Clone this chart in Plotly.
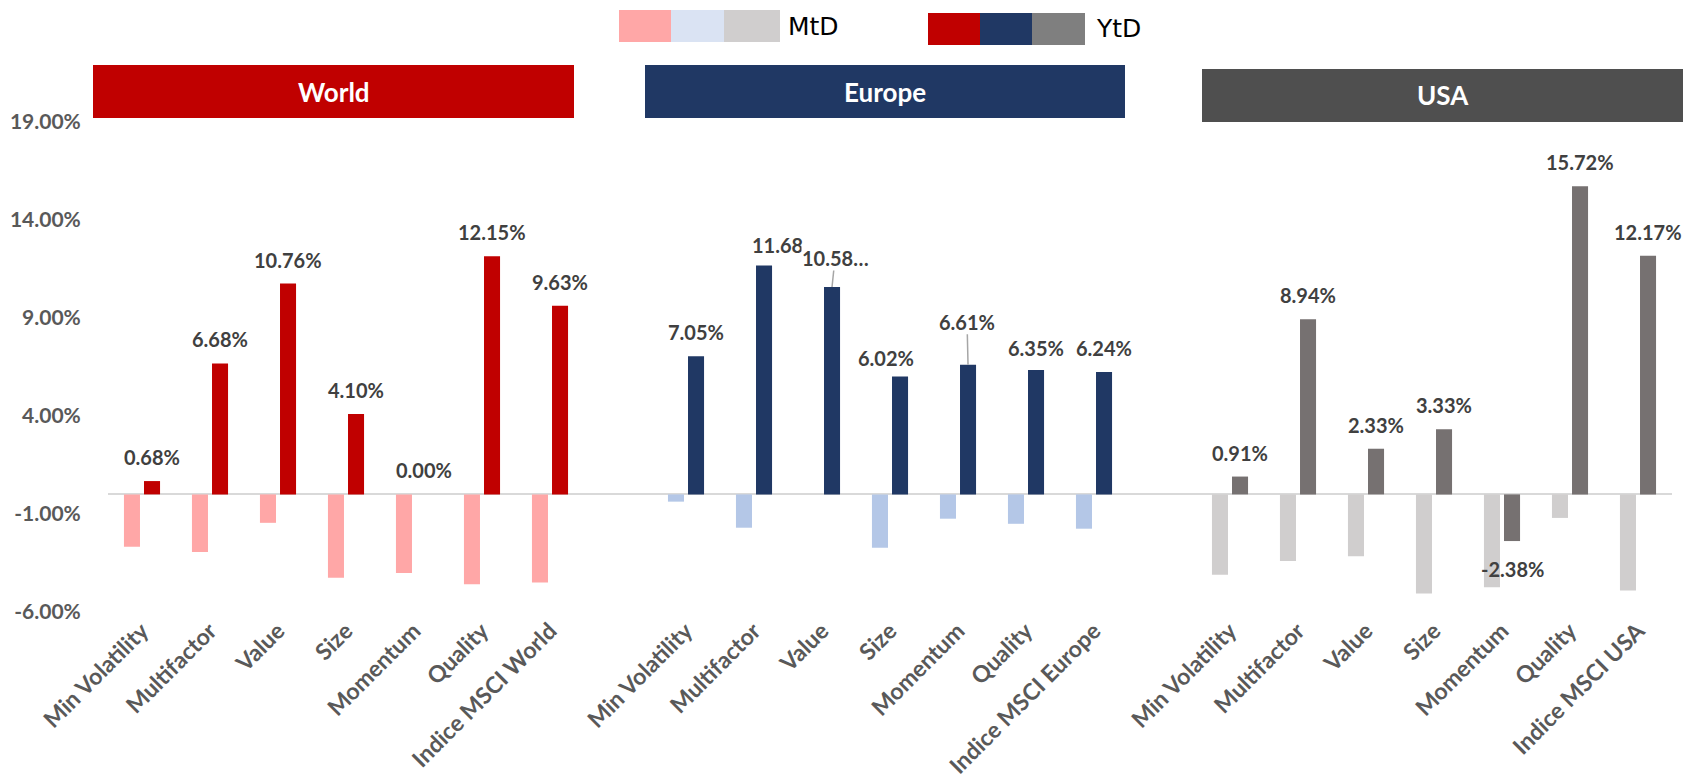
import plotly.graph_objects as go

# ---------------- data ----------------
groups = ["World", "Europe", "USA"]
factors = ["Min Volatility", "Multifactor", "Value", "Size", "Momentum", "Quality"]
index_labels = ["Indice MSCI World", "Indice MSCI Europe", "Indice MSCI USA"]

mtd_world = [-2.67, -2.94, -1.45, -4.25, -4.01, -4.59, -4.49]
mtd_europe = [-0.37, -1.70, 0.00, -2.72, -1.24, -1.50, -1.75]
mtd_usa = [-4.10, -3.40, -3.15, -5.05, -4.74, -1.20, -4.90]

ytd_world = [0.68, 6.68, 10.76, 4.10, 0.00, 12.15, 9.63]
ytd_europe = [7.05, 11.68, 10.58, 6.02, 6.61, 6.35, 6.24]
ytd_usa = [0.91, 8.94, 2.33, 3.33, -2.38, 15.72, 12.17]

y_ticks = [-6, -1, 4, 9, 14, 19]

# ---------------- styles ----------------
mtd_colors = ["#FFA7A7", "#B4C7E7", "#D0CECE"]
ytd_colors = ["#C00000", "#203864", "#767171"]
header_colors = ["#C00000", "#203864", "#4F4F4F"]
legend_mtd_colors = ["#FFA7A7", "#DAE3F3", "#D0CECE"]
legend_ytd_colors = ["#C00000", "#203864", "#7F7F7F"]

W, H = 1685, 780
PL, PR, PT, PB = 108, 1672, 122, 612
BARGAP, BARGROUPGAP = 0.41, 0.2
FONT = "Lato"
LABEL_COLOR = "#404040"
TICK_COLOR = "#595959"


def px(x):
    return (x - PL) / (PR - PL)


def py(y):
    return (PB - y) / (PB - PT)


# ---------------- build categories ----------------
mtd_all = [mtd_world, mtd_europe, mtd_usa]
ytd_all = [ytd_world, ytd_europe, ytd_usa]

xs, labels, mtd_vals, ytd_vals, mtd_cols, ytd_cols = [], [], [], [], [], []
for g in range(3):
    cats = factors + [index_labels[g]]
    for j, c in enumerate(cats):
        xs.append(g * 8 + j)
        labels.append(c)
        mtd_vals.append(mtd_all[g][j])
        ytd_vals.append(ytd_all[g][j])
        mtd_cols.append(mtd_colors[g])
        ytd_cols.append(ytd_colors[g])

fig = go.Figure()
fig.add_trace(go.Bar(x=xs, y=mtd_vals, marker=dict(color=mtd_cols, line=dict(width=0)),
                     name="MtD", showlegend=False, hoverinfo="skip"))
fig.add_trace(go.Bar(x=xs, y=ytd_vals, marker=dict(color=ytd_cols, line=dict(width=0)),
                     name="YtD", showlegend=False, hoverinfo="skip"))

# ---------------- data labels (YtD) ----------------
ytd_offset = (1 - BARGAP) / 4  # centre of the YtD bar within its category
# special label placements keyed by category slot
nudges = {
    9: dict(xshift=21, yshift=20, trunc=True),
    10: dict(arrow=(3, -29), trunc=True),
    11: dict(xshift=-14, yshift=18),
    12: dict(arrow=(-1, -43)),
    13: dict(yshift=22),
}
annotations = []
label_font = dict(family=FONT, size=20, color=LABEL_COLOR, weight="bold")
for x, v in zip(xs, ytd_vals):
    n = nudges.get(x, {})
    txt = f"{v:.2f}%"
    if n.get("trunc"):
        txt = f"{v:.2f}…"
    if "arrow" in n:
        ax, ay = n["arrow"]
        ann = dict(
            x=x + ytd_offset, y=v, xref="x", yref="y", text=txt, showarrow=True,
            arrowhead=0, arrowwidth=1.5, arrowcolor="#A6A6A6", ax=ax, ay=ay,
            standoff=0, font=label_font, borderpad=0)
        if x == 10:
            ann["bgcolor"] = "white"
        annotations.append(ann)
    else:
        ysh = -28 if v < 0 else n.get("yshift", 24)
        annotations.append(dict(
            x=x + ytd_offset, y=v, xref="x", yref="y", text=txt, showarrow=False,
            xshift=n.get("xshift", 0), yshift=ysh, yanchor="middle",
            font=label_font))

# ---------------- group headers ----------------
shapes = []
header_boxes = [(93, 574, 65, 118), (645, 1125, 65, 118), (1202, 1683, 69, 122)]
for g, (x0, x1, y0, y1) in enumerate(header_boxes):
    shapes.append(dict(type="rect", xref="paper", yref="paper",
                       x0=px(x0), x1=px(x1), y0=py(y1), y1=py(y0),
                       fillcolor=header_colors[g], line=dict(width=0)))
    annotations.append(dict(xref="paper", yref="paper", x=px((x0 + x1) / 2),
                            y=py((y0 + y1) / 2), text=groups[g], showarrow=False,
                            xanchor="center", yanchor="middle",
                            font=dict(family=FONT, size=26, color="white", weight="bold")))

# ---------------- custom legend ----------------
mtd_sw = [619, 671, 724, 780]
ytd_sw = [928, 980, 1032, 1085]
for k in range(3):
    shapes.append(dict(type="rect", xref="paper", yref="paper",
                       x0=px(mtd_sw[k]), x1=px(mtd_sw[k + 1]), y0=py(42), y1=py(10),
                       fillcolor=legend_mtd_colors[k], line=dict(width=0)))
    shapes.append(dict(type="rect", xref="paper", yref="paper",
                       x0=px(ytd_sw[k]), x1=px(ytd_sw[k + 1]), y0=py(45), y1=py(13),
                       fillcolor=legend_ytd_colors[k], line=dict(width=0)))
legend_font = dict(family="DejaVu Sans", size=25, color="#000000")
annotations.append(dict(xref="paper", yref="paper", x=px(786), y=py(26), text="MtD",
                        showarrow=False, xanchor="left", yanchor="middle", font=legend_font))
annotations.append(dict(xref="paper", yref="paper", x=px(1094), y=py(29), text="YtD",
                        showarrow=False, xanchor="left", yanchor="middle", font=legend_font))

ytick_font = dict(family=FONT, size=21, color=TICK_COLOR, weight="bold")
xtick_font = dict(family=FONT, size=23, color=TICK_COLOR, weight="bold")
fig.update_layout(
    width=W, height=H,
    margin=dict(l=PL, r=W - PR, t=PT, b=H - PB, pad=0),
    paper_bgcolor="white", plot_bgcolor="white",
    barmode="group", bargap=BARGAP, bargroupgap=BARGROUPGAP,
    shapes=shapes, annotations=annotations,
    xaxis=dict(range=[-0.5, 22.5], tickmode="array", tickvals=xs, ticktext=labels,
               tickangle=-45, tickfont=xtick_font, showgrid=False, zeroline=False,
               showline=False, ticks="", automargin=False),
    yaxis=dict(range=[-6, 19], tickmode="array", tickvals=y_ticks,
               ticktext=[f"{t:.2f}%" for t in y_ticks], tickfont=ytick_font,
               showgrid=False, zeroline=True, zerolinecolor="#D9D9D9", zerolinewidth=2,
               showline=False, ticks="outside", ticklen=22, tickcolor="rgba(0,0,0,0)",
               automargin=False),
)

fig.write_html("out.html", config={"displayModeBar": False},
               post_script="document.body.style.margin='0';document.body.style.padding='0';")
